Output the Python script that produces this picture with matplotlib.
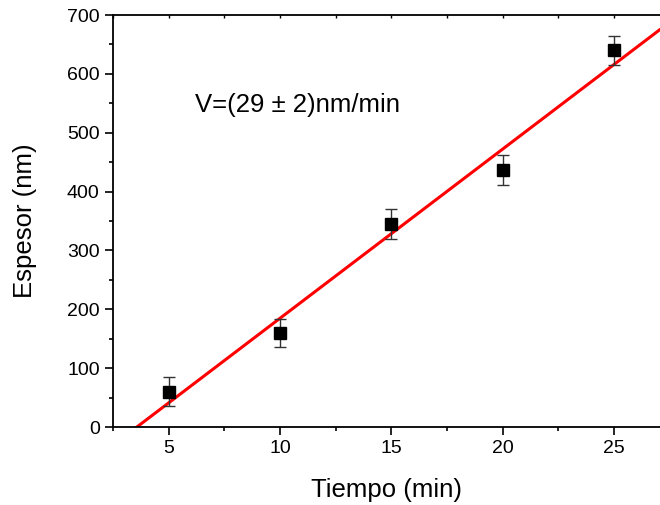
import numpy as np
import matplotlib.pyplot as plt
from matplotlib.ticker import MultipleLocator

plt.rcParams['font.family'] = ['Liberation Sans', 'DejaVu Sans']

# data
tiempo = [5, 10, 15, 20, 25]
espesor = [60, 160, 345, 437, 640]
err = [25, 24, 25, 25, 25]

# linear fit
m, b = np.polyfit(tiempo, espesor, 1)
xfit = np.array([2.5, 27.5])

fig = plt.figure(figsize=(6.6, 5.05), dpi=100)
ax = fig.add_axes([113/660, 78/505, 1 - 113/660, 412/505])

ax.plot(xfit, m*xfit + b, color='red', lw=2.2, zorder=2)
ax.errorbar(tiempo, espesor, yerr=err, fmt='s', color='black', ms=9,
            ecolor='#333333', elinewidth=1, capsize=4, capthick=1, zorder=3)

ax.set_xlim(2.5, 27.07)
ax.set_ylim(0, 700)
ax.xaxis.set_major_locator(MultipleLocator(5))
ax.xaxis.set_minor_locator(MultipleLocator(2.5))
ax.yaxis.set_major_locator(MultipleLocator(100))
ax.yaxis.set_minor_locator(MultipleLocator(50))

ax.spines['right'].set_visible(False)
for s in ['left', 'bottom', 'top']:
    ax.spines[s].set_linewidth(1.3)

ax.tick_params(which='major', direction='out', length=6, width=1.2,
               labelsize=14, pad=3.6)
ax.tick_params(which='minor', direction='out', length=3, width=1.2)
ax.tick_params(which='both', right=False)
# small inward ticks on the top spine
sec = ax.secondary_xaxis('top')
sec.xaxis.set_major_locator(MultipleLocator(2.5))
sec.tick_params(direction='in', length=2, width=1, labeltop=False)
sec.spines['top'].set_visible(False)

ax.set_xlabel('Tiempo (min)', fontsize=18.5)
ax.set_ylabel('Espesor (nm)', fontsize=18.5)
ax.xaxis.set_label_coords(0.5, -0.125)
ax.yaxis.set_label_coords(-0.139, 0.5)

ax.text(195/660, 1 - 105/505, 'V=(29 ± 2)nm/min', transform=fig.transFigure,
        fontsize=18.5, va='center', ha='left')

fig.savefig('out.png', dpi=100)
